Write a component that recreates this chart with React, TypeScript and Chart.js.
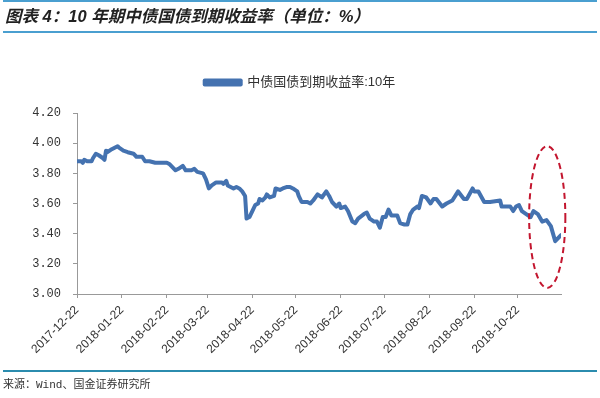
import React, { useEffect, useRef } from "react";
import { Chart, registerables } from "chart.js";

Chart.register(...registerables);

const titleText = "图表 4：10 年期中债国债到期收益率（单位：%）";
const sourceText = "来源：Wind、国金证券研究所";
const seriesName = "中债国债到期收益率:10年";

const startDate = "2017-12-22";
const endDate = "2018-11-21";

const dates = [
  "2017-12-22", "2017-12-25", "2017-12-26", "2017-12-27", "2017-12-29",
  "2018-01-01", "2018-01-02", "2018-01-04", "2018-01-06", "2018-01-09",
  "2018-01-10", "2018-01-11", "2018-01-12", "2018-01-15", "2018-01-17",
  "2018-01-19", "2018-01-20", "2018-01-23", "2018-01-26", "2018-01-30",
  "2018-02-01", "2018-02-05", "2018-02-07", "2018-02-10", "2018-02-14",
  "2018-02-22", "2018-02-24", "2018-02-28", "2018-03-02", "2018-03-05",
  "2018-03-07", "2018-03-11", "2018-03-13", "2018-03-15", "2018-03-19",
  "2018-03-21", "2018-03-23", "2018-03-25", "2018-03-28", "2018-04-01",
  "2018-04-02", "2018-04-04", "2018-04-05", "2018-04-09", "2018-04-11",
  "2018-04-13", "2018-04-15", "2018-04-17", "2018-04-18", "2018-04-20",
  "2018-04-22", "2018-04-24", "2018-04-26", "2018-04-27", "2018-04-29",
  "2018-05-01", "2018-05-02", "2018-05-04", "2018-05-07", "2018-05-08",
  "2018-05-11", "2018-05-13", "2018-05-16", "2018-05-18", "2018-05-20",
  "2018-05-23", "2018-05-24", "2018-05-26", "2018-05-30", "2018-06-01",
  "2018-06-03", "2018-06-06", "2018-06-09", "2018-06-12", "2018-06-14",
  "2018-06-16", "2018-06-19", "2018-06-21", "2018-06-22", "2018-06-25",
  "2018-06-27", "2018-06-30", "2018-07-02", "2018-07-04", "2018-07-08",
  "2018-07-10", "2018-07-12", "2018-07-15", "2018-07-17", "2018-07-19",
  "2018-07-21", "2018-07-23", "2018-07-25", "2018-07-27", "2018-07-31",
  "2018-08-02", "2018-08-05", "2018-08-07", "2018-08-09", "2018-08-11",
  "2018-08-14", "2018-08-15", "2018-08-17", "2018-08-20", "2018-08-23",
  "2018-08-25", "2018-08-27", "2018-08-31", "2018-09-03", "2018-09-07",
  "2018-09-11", "2018-09-15", "2018-09-17", "2018-09-21", "2018-09-22",
  "2018-09-25", "2018-09-29", "2018-10-03", "2018-10-10", "2018-10-11",
  "2018-10-14", "2018-10-17", "2018-10-19", "2018-10-21", "2018-10-23",
  "2018-10-25", "2018-10-28", "2018-10-31", "2018-11-02", "2018-11-05",
  "2018-11-08", "2018-11-11", "2018-11-14", "2018-11-17", "2018-11-20",
  "2018-11-21",
];

const yields = [
  3.88, 3.88, 3.87, 3.89, 3.88,
  3.88, 3.90, 3.93, 3.92, 3.90,
  3.89, 3.95, 3.94, 3.96, 3.97,
  3.98, 3.97, 3.95, 3.94, 3.93,
  3.91, 3.91, 3.88, 3.88, 3.87,
  3.87, 3.86, 3.82, 3.83, 3.85,
  3.82, 3.82, 3.83, 3.81, 3.80,
  3.76, 3.70, 3.72, 3.74, 3.74,
  3.73, 3.75, 3.72, 3.70, 3.71,
  3.70, 3.68, 3.65, 3.50, 3.51,
  3.55, 3.59, 3.60, 3.63, 3.62,
  3.64, 3.66, 3.64, 3.65, 3.70,
  3.69, 3.70, 3.71, 3.71, 3.70,
  3.68, 3.65, 3.61, 3.61, 3.60,
  3.62, 3.66, 3.64, 3.68, 3.65,
  3.61, 3.58, 3.60, 3.57, 3.58,
  3.55, 3.48, 3.47, 3.50, 3.53,
  3.54, 3.50, 3.48, 3.48, 3.44,
  3.51, 3.51, 3.56, 3.52, 3.52,
  3.47, 3.46, 3.46, 3.53, 3.56,
  3.58, 3.57, 3.65, 3.64, 3.60,
  3.63, 3.63, 3.58, 3.60, 3.62,
  3.68, 3.63, 3.63, 3.70, 3.68,
  3.68, 3.61, 3.61, 3.62, 3.58,
  3.58, 3.58, 3.55, 3.58, 3.59,
  3.55, 3.53, 3.51, 3.55, 3.53,
  3.48, 3.49, 3.45, 3.35, 3.38,
  3.39,
];

const tickDates = [
  "2017-12-22", "2018-01-22", "2018-02-22", "2018-03-22", "2018-04-22",
  "2018-05-22", "2018-06-22", "2018-07-22", "2018-08-22", "2018-09-22",
  "2018-10-22",
];

const yMin = 3.0;
const yMax = 4.2;
const yStep = 0.2;

// highlighted region (dashed red ellipse)
const highlightDates = ["2018-10-30", "2018-11-24"];
const highlightRange = [3.04, 3.98];

function dayOffset(s: string): number {
  const [y, m, d] = s.split("-").map(Number);
  const [y0, m0, d0] = startDate.split("-").map(Number);
  return Math.round((Date.UTC(y, m - 1, d) - Date.UTC(y0, m0 - 1, d0)) / 86400000);
}

const ellipsePlugin = {
  id: "highlightEllipse",
  afterDatasetsDraw(chart: any) {
    const xs = chart.scales.x;
    const ys = chart.scales.y;
    const x1 = xs.getPixelForValue(dayOffset(highlightDates[0]));
    const x2 = xs.getPixelForValue(dayOffset(highlightDates[1]));
    const y1 = ys.getPixelForValue(highlightRange[1]);
    const y2 = ys.getPixelForValue(highlightRange[0]);
    const ctx = chart.ctx;
    ctx.save();
    ctx.beginPath();
    ctx.setLineDash([6, 4]);
    ctx.lineWidth = 2;
    ctx.strokeStyle = "#c3162f";
    ctx.ellipse((x1 + x2) / 2, (y1 + y2) / 2, (x2 - x1) / 2, (y2 - y1) / 2, 0, 0, Math.PI * 2);
    ctx.stroke();
    ctx.restore();
  },
};

const legendGapPlugin = {
  id: "legendGap",
  beforeInit(chart: any) {
    if (!chart.legend) return;
    const orig = chart.legend.fit;
    chart.legend.fit = function () {
      orig.call(this);
      this.height += 14;
    };
  },
};

export default function App() {
  const ref = useRef<HTMLCanvasElement | null>(null);

  useEffect(() => {
    if (!ref.current) return;
    const tickMap = new Map<number, string>();
    tickDates.forEach((d) => tickMap.set(dayOffset(d), d));
    const points = dates.map((d, i) => ({ x: dayOffset(d), y: yields[i] }));

    const chart = new Chart(ref.current, {
      type: "line",
      data: {
        datasets: [
          {
            label: seriesName,
            data: points,
            borderColor: "#4472b0",
            backgroundColor: "#4472b0",
            borderWidth: 4,
            pointRadius: 0,
            tension: 0,
            borderJoinStyle: "round",
            borderCapStyle: "round",
            yAxisID: "y",
          },
        ],
      },
      options: {
        animation: false,
        responsive: false,
        maintainAspectRatio: false,
        layout: { padding: { top: 66, left: 0, right: 0, bottom: 34 } },
        plugins: {
          legend: {
            display: true,
            position: "top",
            labels: {
              boxWidth: 36,
              boxHeight: 4,
              padding: 10,
              color: "#333",
              font: { size: 13, family: "'Liberation Sans', 'Noto Sans CJK SC', sans-serif" },
            },
          },
          tooltip: { enabled: false },
        },
        scales: {
          x: {
            type: "linear",
            min: 0,
            max: dayOffset(endDate),
            afterBuildTicks(scale: any) {
              scale.ticks = tickDates.map((d) => ({ value: dayOffset(d) }));
            },
            afterFit(scale: any) {
              scale.height = 70;
            },
            ticks: {
              autoSkip: false,
              minRotation: 45,
              maxRotation: 45,
              padding: 5,
              color: "#333",
              font: { size: 12, family: "'Liberation Sans', sans-serif" },
              callback: (v: any) => tickMap.get(Math.round(Number(v))) ?? "",
            },
            grid: { display: true, drawOnChartArea: false, drawTicks: true, tickLength: 4, color: "#999" },
            border: { display: true, color: "#999", width: 1 },
          },
          y: {
            type: "linear",
            position: "left",
            min: yMin,
            max: yMax,
            afterFit(scale: any) {
              scale.width = 77;
            },
            ticks: {
              stepSize: yStep,
              padding: 12,
              color: "#333",
              font: { size: 12, family: "'Liberation Mono', monospace" },
              callback: (v: any) => Number(v).toFixed(2),
            },
            grid: { display: true, drawOnChartArea: false, drawTicks: true, tickLength: 4, color: "#999" },
            border: { display: true, color: "#999", width: 1 },
          },
          yRight: {
            type: "linear",
            position: "right",
            min: yMin,
            max: yMax,
            afterFit(scale: any) {
              scale.width = 39;
            },
            ticks: { display: false },
            grid: { display: false },
            border: { display: false },
          },
        },
      },
      plugins: [legendGapPlugin, ellipsePlugin],
    } as any);
    return () => chart.destroy();
  }, []);

  return (
    <div style={{ position: "fixed", left: 0, top: 0, width: 600, height: 398, background: "#fff", overflow: "hidden" }}>
      <canvas ref={ref} width={600} height={398} style={{ position: "absolute", left: 0, top: 0, width: 600, height: 398 }} />
      <div style={{ position: "absolute", left: 3, top: 0, width: 594, height: 2, background: "#4a9fd0" }} />
      <div
        style={{
          position: "absolute",
          left: 5,
          top: 7,
          fontFamily: "'Liberation Sans', 'Noto Sans CJK SC', sans-serif",
          fontSize: 16.5,
          fontWeight: "bold",
          fontStyle: "italic",
          lineHeight: "19px",
          color: "#222",
          whiteSpace: "nowrap",
        }}
      >
        {titleText}
      </div>
      <div style={{ position: "absolute", left: 3, top: 31, width: 594, height: 2, background: "#4a9fd0" }} />
      <div style={{ position: "absolute", left: 3, top: 370, width: 594, height: 2, background: "#2b8cae" }} />
      <div
        style={{
          position: "absolute",
          left: 3,
          top: 378,
          fontFamily: "'Liberation Mono', 'Noto Sans CJK SC', monospace",
          fontSize: 11,
          lineHeight: "14px",
          color: "#333",
          whiteSpace: "nowrap",
        }}
      >
        {sourceText}
      </div>
    </div>
  );
}
